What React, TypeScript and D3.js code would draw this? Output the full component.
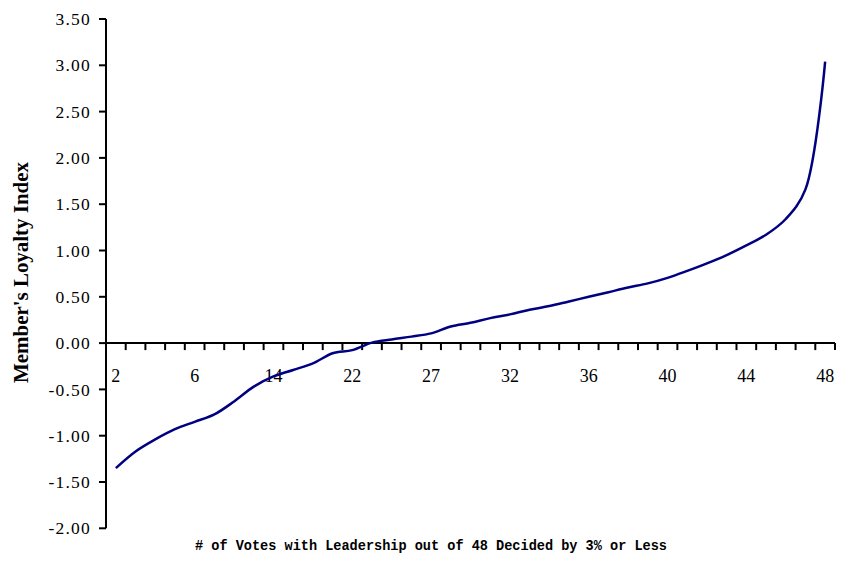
import React from "react";
import * as d3 from "d3";

const categories: number[] = Array.from({ length: 37 }, (_, i) => i);
const tickLabels: string[] = ["2", "6", "14", "22", "27", "32", "36", "40", "44", "48"];
const loyalty: number[] = [
  -1.35, -1.17, -1.04, -0.93, -0.85, -0.77, -0.63, -0.47, -0.36, -0.29,
  -0.22, -0.11, -0.076, 0.005, 0.04, 0.07, 0.105, 0.18, 0.22, 0.27,
  0.31, 0.36, 0.40, 0.45, 0.50, 0.55, 0.60, 0.645, 0.705, 0.78,
  0.86, 0.95, 1.055, 1.17, 1.34, 1.66, 3.04,
];
const yTicks: number[] = [-2, -1.5, -1, -0.5, 0, 0.5, 1, 1.5, 2, 2.5, 3, 3.5];

export default function App() {
  const W = 842, H = 577;
  const left = 106, right = 835, top = 19, bottom = 528.3;
  const y = d3.scaleLinear().domain([-2, 3.5]).range([bottom, top]);
  const x = d3.scaleBand<number>().domain(categories).range([left, right]);
  const cx = (i: number) => (x(i) as number) + x.bandwidth() / 2;
  const line = d3
    .line<number>()
    .x((_, i) => cx(i))
    .y((d) => y(d))
    .curve(d3.curveCatmullRom.alpha(0.5));
  const y0 = y(0);
  const serif = "Liberation Serif, Times New Roman, serif";
  const boundaries = categories.map((c) => (x(c) as number) + x.bandwidth());
  return (
    <svg width={W} height={H} style={{ position: "absolute", left: 0, top: 0 }}>
      <rect width={W} height={H} fill="#fff" />
      <line x1={left} x2={left} y1={top} y2={bottom} stroke="#000" strokeWidth={2} />
      {yTicks.map((t) => (
        <g key={t}>
          <line x1={left - 7} x2={left} y1={y(t)} y2={y(t)} stroke="#000" strokeWidth={2} />
          <text
            x={91}
            y={y(t)}
            dy="0.35em"
            textAnchor="end"
            fontFamily={serif}
            fontSize={17.5}
            letterSpacing={1.2}
          >
            {t.toFixed(2)}
          </text>
        </g>
      ))}
      <line x1={left} x2={right} y1={y0} y2={y0} stroke="#000" strokeWidth={2} />
      {boundaries.map((b, i) => (
        <line key={i} x1={b} x2={b} y1={y0} y2={y0 + 7} stroke="#000" strokeWidth={2} />
      ))}
      {tickLabels.map((lab, k) => (
        <text
          key={lab}
          x={cx(k * 4)}
          y={382}
          textAnchor="middle"
          fontFamily={serif}
          fontSize={18}
        >
          {lab}
        </text>
      ))}
      <path d={line(loyalty) || ""} fill="none" stroke="#000080" strokeWidth={2.5} />
      <text
        transform={`translate(28,272.5) rotate(-90)`}
        textAnchor="middle"
        fontFamily={serif}
        fontWeight="bold"
        fontSize={20}
        textLength={221}
        lengthAdjust="spacingAndGlyphs"
      >
        Member's Loyalty Index
      </text>
      <text
        x={195}
        y={549.5}
        fontFamily="Liberation Mono, Courier New, monospace"
        fontWeight="bold"
        fontSize={15.5}
        textLength={472}
        lengthAdjust="spacingAndGlyphs"
      >
        # of Votes with Leadership out of 48 Decided by 3% or Less
      </text>
    </svg>
  );
}
